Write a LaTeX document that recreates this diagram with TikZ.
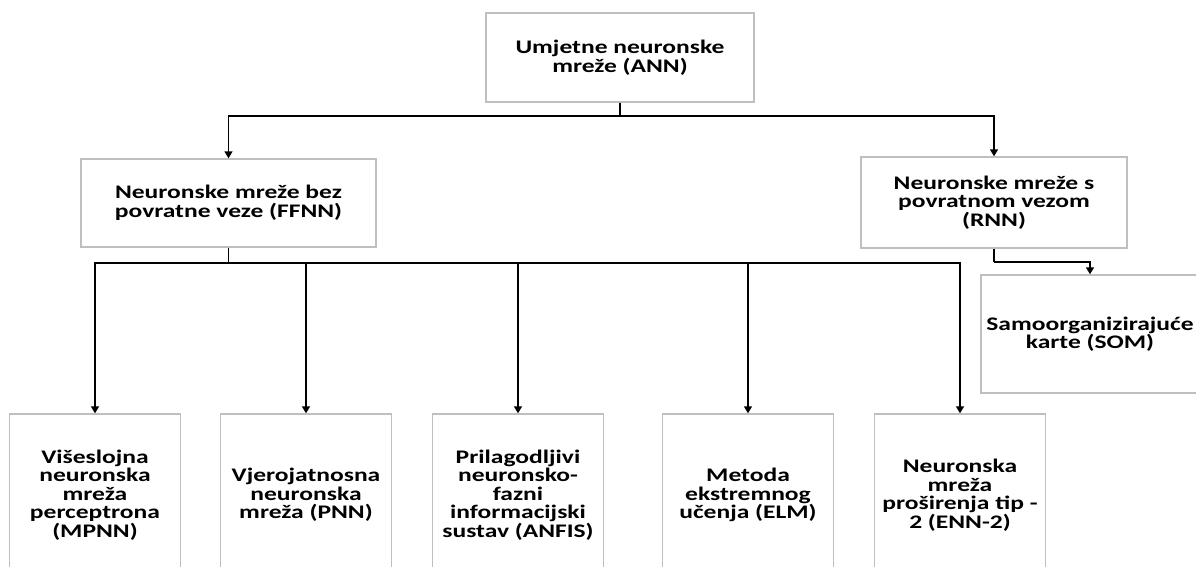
\documentclass[tikz,border=0pt]{standalone}
\usepackage{fontspec}
\setmainfont{Carlito}[FakeStretch=1.33]
\usepackage{tikz}
\usetikzlibrary{arrows.meta}

\begin{document}
\begin{tikzpicture}[x=1pt, y=-1pt,
	box/.style={draw=black!25, line width=1.4pt, align=center, inner sep=0pt,
		font=\fontsize{19.2}{18.5}\selectfont\bfseries},
	leaf/.style={box, minimum width=171pt, minimum height=162pt},
	arr/.style={line width=1.5pt, -{Triangle[length=7pt,width=8pt]}}]
		\useasboundingbox (0,0) rectangle (1196,567);
		\node[box, minimum width=268pt, minimum height=89pt] (ann) at (620,57.5) {Umjetne neuronske\\mreže (ANN)};
		\node[box, minimum width=295pt, minimum height=88pt] (ffnn) at (228.5,203) {Neuronske mreže bez\\povratne veze (FFNN)};
		\node[box, minimum width=266pt, minimum height=91pt] (rnn) at (994,202.5) {Neuronske mreže s\\povratnom vezom\\(RNN)};
		\node[box, minimum width=218pt, minimum height=118pt] (som) at (1090,334) {Samoorganizirajuće\\karte (SOM)};
		\node[leaf] (mpnn) at (95,495) {Višeslojna\\neuronska\\mreža\\perceptrona\\(MPNN)};
		\node[leaf] (pnn) at (306,495) {Vjerojatnosna\\neuronska\\mreža (PNN)};
		\node[leaf] (anfis) at (518,495) {Prilagodljivi\\neuronsko-\\fazni\\informacijski\\sustav (ANFIS)};
		\node[leaf] (elm) at (748,495) {Metoda\\ekstremnog\\učenja (ELM)};
		\node[leaf] (enn) at (960,495) {Neuronska\\mreža\\proširenja tip -\\2 (ENN-2)};
		\coordinate (b1) at (620,116);
		\coordinate (b2) at (228.5,263);
		\coordinate (b3) at (994,262);
		\draw[line width=1.5pt] (ann.south) -- (b1);
		\draw[arr] (b1) -| (ffnn.north);
		\draw[arr] (b1) -| (rnn.north);
		\draw[line width=1.5pt] (ffnn.south) -- (b2);
		\draw[arr] (b2) -| (mpnn.north);
		\draw[arr] (b2) -| (pnn.north);
		\draw[arr] (b2) -| (anfis.north);
		\draw[arr] (b2) -| (elm.north);
		\draw[arr] (b2) -| (enn.north);
		\draw[line width=1.5pt] (rnn.south) -- (b3);
		\draw[arr] (b3) -| (som.north);
\end{tikzpicture}
\end{document}
